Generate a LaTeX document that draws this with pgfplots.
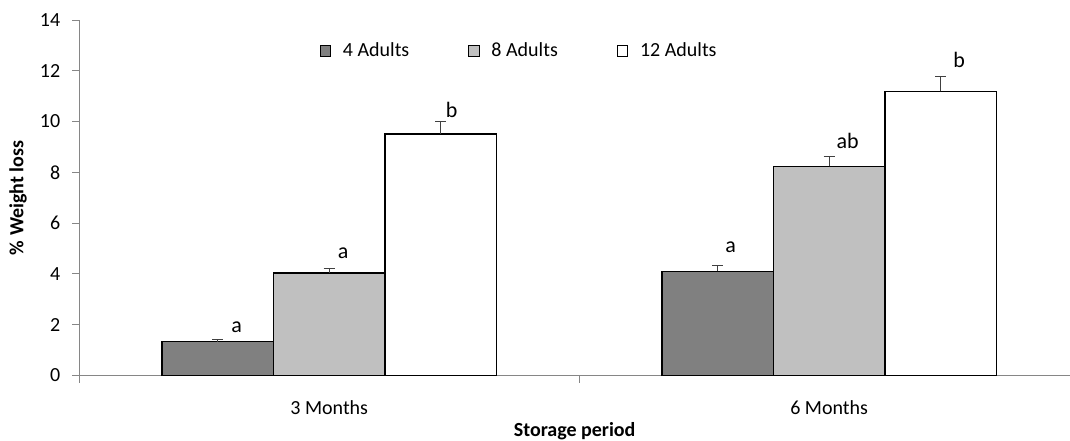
\documentclass[border=0pt]{standalone}
\usepackage{fontspec}
\setmainfont{Carlito}
\usepackage{pgfplots}
\pgfplotsset{compat=1.18}
\definecolor{axisgrey}{HTML}{868686}
\definecolor{darkbar}{HTML}{808080}
\definecolor{lightbar}{HTML}{C0C0C0}
\definecolor{errgrey}{HTML}{404040}
\begin{document}
\begin{tikzpicture}
\useasboundingbox (-39.65pt,-32.25pt) rectangle (495.35pt,187.75pt);
\begin{axis}[
  at={(0pt,0pt)}, anchor=south west,
  scale only axis,
  width=495.35pt, height=177.75pt,
  xmin=-0.5, xmax=1.482,
  ymin=0, ymax=14,
  ytick={0,2,...,14},
  xtick={0,1},
  xticklabels={3 Months, 6 Months},
  minor xtick={-0.5,0.5,1.5},
  major x tick style={draw=none},
  minor x tick style={draw=axisgrey, line width=0.5pt},
  y tick style={draw=axisgrey, line width=0.5pt},
  major tick length=3.5pt,
  minor tick length=3.5pt,
  tick align=outside,
  axis lines*=left,
  axis line style={draw=axisgrey, line width=0.5pt},
  /pgf/number format/assume math mode=true,
  ticklabel style={font=\fontsize{10}{12}\selectfont},
  yticklabel style={xshift=-2.5pt},
  xticklabel style={yshift=-5.5pt},
  xlabel={\textbf{Storage period}},
  ylabel={\textbf{\% Weight loss}},
  label style={font=\fontsize{10}{12}\selectfont},
  xlabel style={at={(axis description cs:0.5,0)}, anchor=base, yshift=-30.5pt},
  ylabel style={at={(axis description cs:0,0.5)}, anchor=center, yshift=30.6pt},
  ybar, bar width=0.223,
  clip=false,
  legend columns=3,
  legend style={draw=none, fill=none, at={(rel axis cs:0.2423,0.9128)}, anchor=west,
    font=\fontsize{10}{12}\selectfont, inner sep=0pt,
    /tikz/every even column/.append style={column sep=27.5pt}},
  legend image code/.code={\draw[#1, line width=0.5pt] (0pt,-2.6pt) rectangle (5.2pt,2.6pt); \path (9pt,0pt);},
  error bars/y dir=plus, error bars/y explicit,
  error bars/error bar style={draw=errgrey, line width=0.5pt},
  error bars/error mark options={draw=errgrey, line width=0.5pt, rotate=90, mark size=2.75pt},
]
\addplot[fill=darkbar, draw=black, line width=0.7pt, bar shift=-0.223]
  coordinates {(0,1.33) +- (0,0.07) (1,4.10) +- (0,0.24)};
\addlegendentry{4 Adults}
\addplot[fill=lightbar, draw=black, line width=0.7pt, bar shift=0]
  coordinates {(0,4.04) +- (0,0.17) (1,8.24) +- (0,0.38)};
\addlegendentry{8 Adults}
\addplot[fill=white, draw=black, line width=0.7pt, bar shift=0.223]
  coordinates {(0,9.51) +- (0,0.49) (1,11.19) +- (0,0.58)};
\addlegendentry{12 Adults}
\begin{scope}[every node/.style={font=\fontsize{11}{13}\selectfont, anchor=base, inner sep=0pt}]
\node at (axis cs:-0.185,1.70) {a};
\node at (axis cs:0.028,4.62) {a};
\node at (axis cs:0.245,10.17) {b};
\node at (axis cs:0.803,4.85) {a};
\node at (axis cs:1.037,8.95) {ab};
\node at (axis cs:1.26,12.12) {b};
\end{scope}
\end{axis}
\end{tikzpicture}
\end{document}
